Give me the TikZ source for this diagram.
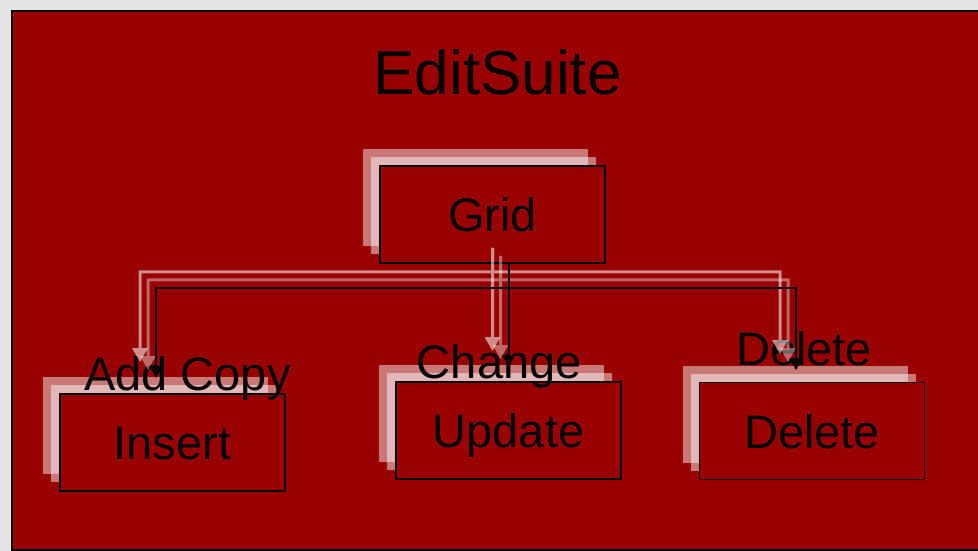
\documentclass[tikz,border=0pt]{standalone}
\usepackage{fontspec}
\setmainfont{Liberation Sans}
\usetikzlibrary{arrows.meta,shadows}
\definecolor{bgred}{HTML}{990000}
\definecolor{pagegray}{HTML}{E4E4E4}
\newcommand\lblfont{\fontsize{47}{56}\selectfont}
\newcommand\ttlfont{\fontsize{62}{74}\selectfont}
\begin{document}
\begin{tikzpicture}[x=1pt,y=-1pt,
  box/.style={draw=black, line width=1.8pt, fill=bgred, rectangle,
    minimum width=225pt, minimum height=97pt, inner sep=0pt,
    text height=34pt, text depth=0pt, font=\lblfont,
    general shadow={fill=white, opacity=.47, shadow xshift=-17pt, shadow yshift=17pt},
    general shadow={fill=white, opacity=.47, shadow xshift=-9pt, shadow yshift=9pt}},
  lbl/.style={inner sep=0pt, anchor=base, font=\lblfont},
  conn/.style={draw=black, line width=2pt, -{Triangle[width=13pt,length=12pt]}},
  sconn/.style={draw=white, line width=3pt, -{Triangle[width=15pt,length=14pt]}}
]
\useasboundingbox (0,0) rectangle (978,551);
\fill[pagegray] (0,0) rectangle (978,551);
\draw[fill=bgred, line width=2pt] (12,11) rectangle (990,550);

\node[inner sep=0pt, anchor=base, font=\ttlfont] (title) at (497.5,94.3) {EditSuite};

\node[box] (grid) at (492.5,214.5) {Grid};
\node[box] (insert) at (172.5,442.5) {Insert};
\node[box] (update) at (508.5,430.5) {Update};
\node[box] (delete) at (812,431) {Delete};

\node[lbl] (lins) at (187.5,390.7) {Add Copy};
\node[lbl] (lupd) at (499.3,378.3) {Change};
\node[lbl] (ldel) at (804,365.7) {Delete};

\coordinate (gs) at ([xshift=16pt]grid.south);
\coordinate (gh) at ([yshift=-24pt]gs);
\coordinate (ta) at (156,378);
\coordinate (tc) at (508.5,367);
\coordinate (td) at (796,370);

\foreach \o/\op in {-16/0.55,-8/0.4}{
  \begin{scope}[transparency group, opacity=\op]
  \draw[sconn] ([shift={(\o,\o)}]gh) -| ([shift={(\o,\o)}]ta);
  \draw[sconn] ([shift={(\o,\o)}]gs) -- ([shift={(\o,\o)}]gh) -| ([shift={(\o,\o)}]td);
  \draw[sconn] ([shift={(\o,\o)}]gs) -- ([shift={(\o,\o)}]tc);
  \end{scope}
}
\draw[conn] (gs) -- (gh) -| (ta);
\draw[conn] (gs) -- (gh) -| (td);
\draw[conn] (gs) -- (tc);
\end{tikzpicture}
\end{document}
